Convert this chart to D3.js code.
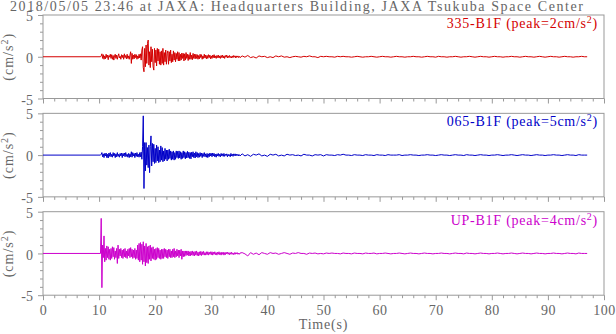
<!DOCTYPE html>
<html><head><meta charset="utf-8">
<script src="https://cdn.jsdelivr.net/npm/d3@7"></script>
<style>
body{margin:0;background:#fff;}
svg{display:block;font-family:"Liberation Serif","Times New Roman",serif;}
</style></head>
<body><svg id="chart" width="616" height="334"></svg>
<script>
// ---- data ----
const titleText = "2018/05/05 23:46 at JAXA: Headquarters Building, JAXA Tsukuba Space Center";
const channels = ["335-B1F", "065-B1F", "UP-B1F"];
const peaks = [2, 5, 4];
const colors = ["#d40000", "#0000c8", "#cc00cc"];
const xTicks = [0,10,20,30,40,50,60,70,80,90,100];
const yTicks = [-5, 0, 5];
const startTime = 0;            // flat before onset
const burstStart = 10.25, burstStep = 0.125;
const tailStart = 35.5, tailStep = 0.5;

const burst335 = [
 0,0.1,0.35,-0.2,0.25,-0.3,0.1,-0.25,
 0.3,-0.1,0.2,-0.35,0.15,-0.05,0.3,-0.2,
 0.25,-0.3,0.15,-0.4,0.1,0.3,-0.2,0.2,
 -0.3,0.1,0.35,-0.15,0.05,-0.3,0.25,-0.1,
 0.2,-0.3,0.35,-0.1,0.15,-0.25,0.3,-0.2,
 0.1,-0.3,0.2,0.6,-0.8,0.4,-0.3,0.2,
 -0.25,0.3,-0.1,0.25,-0.3,0.1,-0.2,0.3,
 -0.15,0.35,-0.4,0.8,1.2,-1.3,-1.8,1.0,
 -1.2,1.4,-0.8,1.6,2.0,-1.0,0.6,-1.3,
 1.2,-0.6,0.9,-1.2,-1.6,1.0,-0.7,0.8,
 -1.1,1.0,-0.5,0.9,-0.9,0.6,-1.0,0.7,
 -0.8,1.0,-1.0,0.5,-0.6,0.8,-0.9,0.4,
 0.7,-0.9,0.6,-0.5,0.8,-0.7,0.3,-0.6,
 0.7,-0.4,0.5,-0.6,0.4,-0.3,0.6,-0.5,
 0.5,-0.5,0.3,-0.4,0.45,-0.2,0.4,-0.5,
 0.35,-0.4,0.5,-0.2,0.3,-0.45,0.25,-0.3,
 0.5,-0.3,0.2,-0.35,0.4,-0.2,0.3,-0.25,
 0.3,-0.2,0.25,-0.3,0.15,-0.25,0.3,-0.1,
 0.25,-0.3,0.1,-0.2,0.3,-0.15,0.2,-0.25,
 0.15,-0.2,0.25,-0.1,0.2,-0.25,0.1,-0.2,
 0.2,-0.1,0.25,-0.15,0.1,-0.2,0.15,-0.1,
 0.2,-0.15,0.1,-0.2,0.15,-0.1,0.2,-0.15,
 0.1,-0.2,0.15,-0.05,0.2,-0.15,0.1,-0.1,
 0.15,-0.1,0.05,-0.15,0.1,-0.1,0.15,-0.05,
 0.1,-0.15,0.1,-0.05,0.1,-0.1,0.05,-0.1];
const tail335 = [0.1,-0.05,0.15,-0.1,0,-0.15,0.1,0,0.05,-0.1,
 0,-0.1,0.1,0,0.1,-0.05,0,-0.1,0,0.05,
 0,-0.05,0.05,0,0.1,0,0,-0.1,0.05,0,
 0.05,0,0,-0.05,0.05,0,0.05,0,0,-0.05,
 0,0.05,0,-0.05,0,0,0.05,0,-0.05,0,
 0.05,0,0,-0.05,0,0.05,0,0,-0.05,0,
 0,0.05,0,0,-0.05,0,0.05,0,0,-0.05,
 0.05,0,0,-0.05,0,0,0.05,0,-0.05,0,
 0,0.05,0,-0.05,0,0.05,0,0,-0.05,0,
 0.05,0,0,-0.05,0,0,0.05,0,0,-0.05,
 0,0.05,0,0,-0.05,0,0.05,0,-0.05,0,
 0.05,0,0,-0.05,0,0.05,0,0,-0.05,0,
 0,0.05,0,0];

const burst065 = [
 0,0.1,0.3,-0.2,0.15,-0.3,0.2,-0.1,
 0.25,-0.3,0.1,-0.35,0.25,-0.15,0.3,-0.2,
 0.1,-0.25,0.3,-0.1,0.2,-0.3,0.15,-0.2,
 0.3,-0.15,0.1,-0.25,0.2,-0.1,0.25,-0.3,
 0.2,-0.1,0.25,-0.2,0.3,-0.15,0.1,-0.25,
 0.2,-0.3,0.15,-0.2,0.4,-0.25,0.3,-0.1,
 0.2,-0.3,0.25,-0.15,0.3,-0.2,0.1,-0.25,
 0.3,-0.2,0.35,-0.5,1.0,4.7,-4.0,1.5,
 -1.9,1.5,-1.2,0.9,-1.5,1.2,-2.1,1.0,
 2.3,-1.3,1.4,-0.8,1.3,-1.0,0.8,-0.9,
 1.2,-0.7,1.0,-0.9,0.6,-0.8,1.1,-0.6,
 0.9,-0.8,0.5,-0.7,0.8,-0.5,0.6,-0.7,
 0.6,-0.5,0.7,-0.4,0.5,-0.6,0.4,-0.5,
 0.5,-0.6,0.3,-0.5,0.5,-0.3,0.45,-0.4,
 0.5,-0.35,0.4,-0.5,0.3,-0.4,0.5,-0.3,
 0.4,-0.45,0.3,-0.35,0.45,-0.3,0.35,-0.4,
 0.3,-0.45,0.35,-0.2,0.4,-0.3,0.25,-0.35,
 0.4,-0.2,0.3,-0.3,0.2,-0.25,0.3,-0.15,
 0.25,-0.3,0.2,-0.15,0.3,-0.2,0.15,-0.25,
 0.2,-0.3,0.15,-0.2,0.25,-0.1,0.2,-0.2,
 0.25,-0.1,0.2,-0.2,0.1,-0.25,0.15,-0.1,
 0.2,-0.15,0.1,-0.2,0.2,-0.1,0.15,-0.15,
 0.2,-0.15,0.1,-0.05,0.15,-0.2,0.1,-0.1,
 0.05,-0.2,0.2,-0.1,0.1,-0.15,0.15,-0.05,
 0.15,-0.1,0.1,-0.05,0.1,-0.1,0.05,-0.1];
const tail065 = [0.15,-0.1,0.05,-0.15,0.1,0,0.15,-0.1,0,-0.15,
 0.1,0,0.1,-0.1,0,-0.1,0.1,0,0.05,-0.05,
 0,-0.1,0.1,0,0,-0.1,0.05,0,0.05,-0.1,
 0.05,0,0,-0.05,0.05,0,0.1,0,0,-0.05,
 0.05,0,0,-0.05,0.05,0,0,-0.05,0.05,0,
 0,-0.05,0.05,0,0,0,0.05,-0.05,0,0,
 0.05,0,0,-0.05,0,0,0.05,0,0,-0.05,
 0,0.05,0,0,-0.05,0,0.05,0,0,-0.05,
 0.05,0,0,-0.05,0,0.05,0,0,-0.05,0,
 0,0.05,0,-0.05,0,0,0.05,0,-0.05,0,
 0.05,0,0,-0.05,0,0.05,0,0,-0.05,0,
 0,0.05,0,0,-0.05,0,0.05,0,0,-0.05,
 0.05,0,0,0];

const burstUP = [
 0,4.2,-4.1,1.0,-0.5,2.1,-1.0,0.6,
 -0.8,0.9,-0.5,0.8,-0.7,0.5,-0.8,0.6,
 -0.6,0.8,-0.4,0.7,-0.7,0.3,-0.5,0.6,
 -1.2,1.0,-0.6,0.5,-0.3,0.6,-0.5,0.4,
 -0.6,0.5,-0.4,0.6,-0.5,0.3,-0.6,0.5,
 -0.3,0.6,-0.5,0.7,-0.4,0.5,-0.6,0.4,
 -0.5,0.6,-0.7,0.4,-0.6,1.0,-0.8,1.2,
 -1.0,1.3,-0.8,1.1,-1.3,1.4,-1.0,0.9,
 -1.5,1.2,-1.1,0.8,-1.2,0.9,-0.7,1.0,
 -0.9,0.7,-0.6,0.8,-0.7,0.5,-0.8,0.6,
 -0.7,0.7,-0.5,0.6,-0.6,0.4,-0.7,0.5,
 -0.6,0.5,-0.6,0.6,-0.4,0.5,-0.5,0.4,
 -0.6,0.5,-0.4,0.5,-0.5,0.3,-0.5,0.5,
 -0.4,0.6,-0.5,0.3,-0.4,0.5,-0.3,0.4,
 -0.5,0.4,-0.3,0.5,-0.7,0.3,-0.4,0.3,
 -0.35,0.3,-0.25,0.3,-0.2,0.3,-0.3,0.2,
 -0.3,0.25,-0.2,0.3,-0.25,0.2,-0.3,0.25,
 -0.2,0.3,-0.25,0.15,-0.3,0.2,-0.2,0.25,
 -0.25,0.2,-0.15,0.25,-0.2,0.1,-0.2,0.2,
 -0.15,0.2,-0.2,0.15,-0.1,0.2,-0.15,0.2,
 -0.2,0.15,-0.1,0.2,-0.15,0.1,-0.2,0.15,
 -0.1,0.2,-0.15,0.1,-0.2,0.15,-0.1,0.15,
 -0.2,0.1,-0.15,0.15,-0.05,0.15,-0.1,0.1,
 -0.15,0.1,-0.1,0.15,-0.1,0.05,-0.15,0.1,
 -0.1,0.1,-0.05,0.1,-0.1,0.05,-0.1,0.05];
const tailUP = [0.1,-0.05,-0.3,0.1,-0.1,0.05,-0.15,0.1,0,-0.1,
 0.1,0,0.05,-0.1,0,0.1,0,-0.1,0.05,0,
 0.1,0,0,-0.1,0.05,0,0.05,-0.05,0,-0.05,
 0.05,0,0.05,0,0,-0.05,0.05,0,0,-0.05,
 0.05,0,0,-0.05,0.05,0,0,0.05,-0.05,0,
 0,0.05,0,-0.05,0,0,0.05,0,-0.05,0,
 0.05,0,0,-0.05,0,0.05,0,0,-0.05,0,
 0,0.05,0,0,-0.05,0,0.05,0,0,-0.05,
 0.05,0,0,-0.05,0,0.05,0,0,-0.05,0,
 0,0.05,0,-0.05,0,0,0.05,0,-0.05,0,
 0.05,0,0,-0.05,0,0.05,0,0,-0.05,0,
 0,0.05,0,0,-0.05,0,0.05,0,0,-0.05,
 0.05,0,0,0];

const bursts = [burst335, burst065, burstUP];
const tails = [tail335, tail065, tailUP];

// ---- drawing ----
const svg = d3.select("#chart");
const axisColor = "#999", textColor = "#666";
const x = d3.scaleLinear().domain([0, 100]).range([43, 604]);
const panelTop0 = 15, panelStep = 98.35, panelH = 83.5;

svg.append("text").attr("x", 10).attr("y", 10.5)
  .attr("font-size", 14).attr("fill", textColor)
  .attr("textLength", 573).attr("lengthAdjust", "spacing")
  .text(titleText);

channels.forEach((ch, i) => {
  const top = panelTop0 + i * panelStep, bottom = top + panelH;
  const y = d3.scaleLinear().domain([-5, 5]).range([bottom, top]);
  const g = svg.append("g");

  // y axis
  const ya = g.append("g").attr("transform", `translate(${x(0)},0)`)
    .call(d3.axisLeft(y).tickValues(d3.range(-5, 6, 1)).tickSizeOuter(0).tickPadding(5)
      .tickFormat(d => yTicks.includes(d) ? String(d) : ""));
  ya.select(".domain").remove();
  ya.selectAll(".tick line").attr("stroke", axisColor).attr("x2", d => yTicks.includes(d) ? -5 : -3);
  ya.selectAll(".tick text").attr("fill", textColor).attr("font-size", 14)
    .attr("font-family", "Liberation Serif").attr("x", -10).attr("dy", "0.4em");

  // x axis
  const xa = g.append("g").attr("transform", `translate(0,${bottom})`)
    .call(d3.axisBottom(x).tickValues(d3.range(0, 101, 2)).tickSizeOuter(0).tickPadding(5)
      .tickFormat(d => (i === 2 && xTicks.includes(d)) ? String(d) : ""));
  xa.select(".domain").remove();
  xa.selectAll(".tick line").attr("stroke", axisColor).attr("y2", d => xTicks.includes(d) ? 5 : 3);
  xa.selectAll(".tick text").attr("fill", textColor).attr("font-size", 14)
    .attr("font-family", "Liberation Serif").attr("y", 10).attr("letter-spacing", 0.5);

  // frame
  g.append("rect").attr("x", x(0)).attr("y", top).attr("width", x(100) - x(0)).attr("height", panelH)
    .attr("fill", "none").attr("stroke", axisColor).attr("stroke-width", 1);

  // trace
  const pts = [[startTime, 0]]
    .concat(bursts[i].map((v, k) => [burstStart + k * burstStep, v]))
    .concat(tails[i].map((v, k) => [tailStart + k * tailStep, v]));
  const line = d3.line().x(d => x(d[0])).y(d => y(d[1]));
  g.append("path").datum(pts).attr("d", line).attr("fill", "none")
    .attr("stroke", colors[i]).attr("stroke-width", 1).attr("stroke-linejoin", "miter");

  // channel label
  const lab = g.append("text").attr("x", 598).attr("y", top + 13)
    .attr("text-anchor", "end").attr("font-size", 14).attr("fill", colors[i])
    .attr("letter-spacing", 0.75);
  lab.append("tspan").text(`${ch} (peak=${peaks[i]}cm/s`);
  lab.append("tspan").attr("dy", -5).attr("font-size", 10).text("2");
  lab.append("tspan").attr("dy", 5).text(")");

  // y label
  const yl = svg.append("text").attr("transform", `translate(13,${(top + bottom) / 2}) rotate(-90)`)
    .attr("text-anchor", "middle").attr("font-size", 14).attr("fill", textColor)
    .attr("letter-spacing", 1);
  yl.append("tspan").text("(cm/s");
  yl.append("tspan").attr("dy", -5).attr("font-size", 10).text("2");
  yl.append("tspan").attr("dy", 5).text(")");
});

svg.append("text").attr("x", (x(0) + x(100)) / 2).attr("y", 329)
  .attr("text-anchor", "middle").attr("font-size", 14).attr("fill", textColor)
  .attr("letter-spacing", 0.8).text("Time(s)");
</script></body></html>
